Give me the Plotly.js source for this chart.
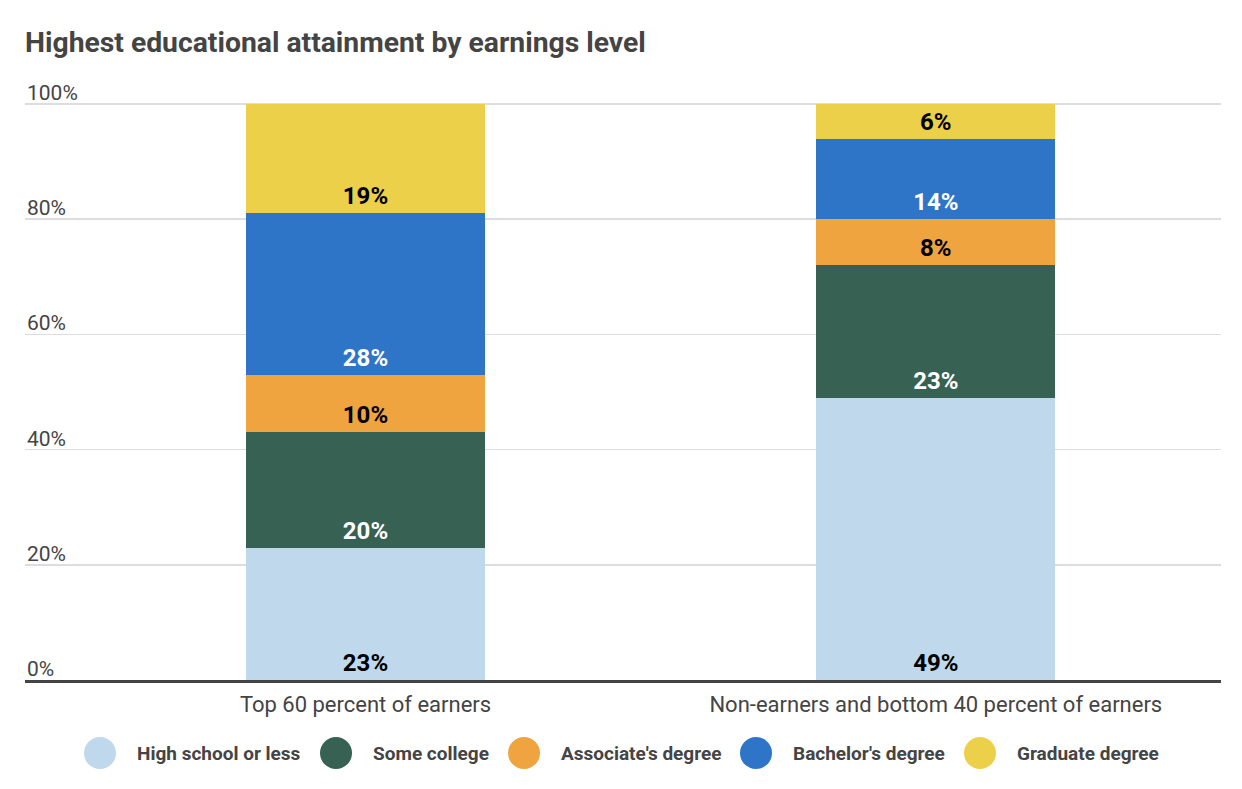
<!DOCTYPE html>
<html>
<head>
<meta charset="utf-8">
<script src="https://cdn.plot.ly/plotly-3.0.1.min.js"></script>
<style>
  html, body { margin: 0; padding: 0; background: #ffffff; }
  #chart { width: 1242px; height: 789px; }
</style>
</head>
<body>
<div id="chart"></div>
<script>
// ---- Data ----
const categories = ["Top 60 percent of earners", "Non-earners and bottom 40 percent of earners"];
const seriesNames = ["High school or less", "Some college", "Associate's degree", "Bachelor's degree", "Graduate degree"];
const highSchoolOrLess = [23, 49];
const someCollege = [20, 23];
const associatesDegree = [10, 8];
const bachelorsDegree = [28, 14];
const graduateDegree = [19, 6];
const yTickValues = [0, 20, 40, 60, 80, 100];
const yTickLabels = ["0%", "20%", "40%", "60%", "80%", "100%"];

// ---- Styles ----
const seriesValues = [highSchoolOrLess, someCollege, associatesDegree, bachelorsDegree, graduateDegree];
const seriesColors = ["#c0d8eb", "#376152", "#efa440", "#2e75c8", "#edd04a"];
const labelColors = ["#000000", "#ffffff", "#000000", "#ffffff", "#000000"];
const FONT = "Roboto, 'Noto Sans', sans-serif";

const traces = seriesNames.map((name, i) => ({
  type: "bar",
  name: name,
  x: categories,
  y: seriesValues[i],
  text: seriesValues[i].map(v => v + "%"),
  texttemplate: "%{text}",
  textposition: "inside",
  insidetextanchor: "start",
  textangle: 0,
  constraintext: "none",
  marker: { color: seriesColors[i], line: { width: 0 } },
  textfont: { family: FONT, size: 24, weight: 700, color: labelColors[i] },
  hoverinfo: "skip",
  showlegend: false
}));

// ---- Layout ----
const W = 1242, H = 789;
const M = { l: 25, r: 21, t: 102, b: 109 };
const pw = W - M.l - M.r, ph = H - M.t - M.b;
const yTop = 100 * ph / (ph - 2);   // puts the 100% gridline 2px inside the plot top
const legendCentersPx = [100, 336, 524, 756, 980];
const legendYPx = 753;
const toPaperX = px => (px - M.l) / pw;
const toPaperY = py => (H - M.b - py) / ph;

const shapes = [];
const annotations = [];

// y tick labels sitting above their gridlines
yTickValues.forEach((v, i) => {
  annotations.push({
    xref: "paper", yref: "y", x: 0, y: v,
    xanchor: "left", yanchor: "bottom", yshift: -3,
    text: yTickLabels[i], showarrow: false,
    font: { family: FONT, size: 21, color: "#444444" }
  });
});

// custom legend with round swatches
seriesNames.forEach((name, i) => {
  shapes.push({
    type: "circle", xref: "paper", yref: "paper",
    xsizemode: "pixel", ysizemode: "pixel",
    xanchor: toPaperX(legendCentersPx[i]), yanchor: toPaperY(legendYPx),
    x0: -16, x1: 16, y0: -16, y1: 16,
    fillcolor: seriesColors[i], line: { width: 0 }
  });
  annotations.push({
    xref: "paper", yref: "paper",
    x: toPaperX(legendCentersPx[i] + 35), y: toPaperY(legendYPx),
    xanchor: "left", yanchor: "middle",
    text: name, showarrow: false,
    font: { family: FONT, size: 19, weight: 700, color: "#444444" }
  });
});

const layout = {
  width: W, height: H,
  margin: M,
  paper_bgcolor: "#ffffff",
  plot_bgcolor: "#ffffff",
  barmode: "stack",
  bargap: 0.581,
  font: { family: FONT, color: "#444444" },
  title: {
    text: "<b>Highest educational attainment by earnings level</b>",
    x: 25 / W, xanchor: "left", xref: "container",
    y: 1 - 42 / H, yanchor: "middle", yref: "container",
    font: { family: FONT, size: 28.3, color: "#444444" }
  },
  xaxis: {
    type: "category",
    range: [-0.597, 1.5],
    showline: true, linecolor: "#444444", linewidth: 3,
    ticks: "", showgrid: false, zeroline: false,
    ticklabelstandoff: 3,
    tickfont: { family: FONT, size: 22, color: "#444444" },
    fixedrange: true
  },
  yaxis: {
    range: [0, yTop],
    tickvals: yTickValues,
    showticklabels: false,
    showgrid: true, gridcolor: "#dddddd", gridwidth: 1.5,
    zeroline: false, showline: false, ticks: "",
    fixedrange: true
  },
  shapes: shapes,
  annotations: annotations,
  showlegend: false
};

Plotly.newPlot("chart", traces, layout, { displayModeBar: false, staticPlot: true });
</script>
</body>
</html>
